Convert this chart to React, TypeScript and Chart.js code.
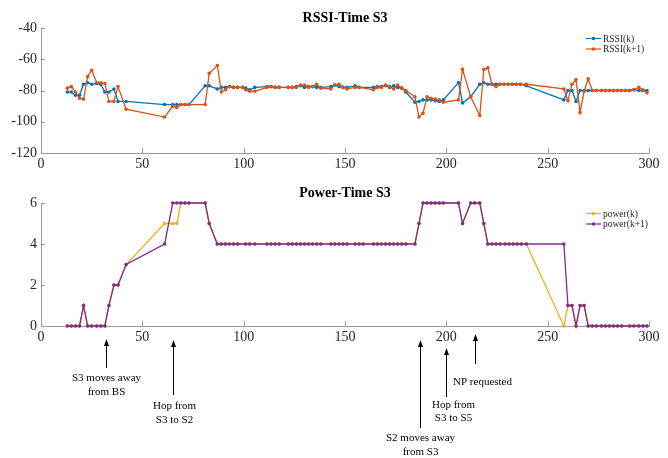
import React, { useEffect, useRef } from "react";
import { Chart, registerables } from "chart.js";

Chart.register(...registerables);

// ---------------- data ----------------
const rssiTimes = [
  13, 15, 17, 19, 21, 23, 25, 27.5, 29.5, 31.5, 33.5, 36, 38, 42,
  61, 65, 67, 69, 71, 73, 81, 83, 87, 89, 91, 93, 95, 97, 99.5, 101, 103, 105.5,
  111.5, 113.5, 115.5, 117.5, 122, 124, 126, 128, 130, 132, 134, 136, 138,
  143, 145, 147, 149, 151, 155, 157, 164, 166, 168, 170, 172, 174, 176, 178, 180,
  184.5, 186.5, 188.5, 190.5, 192.5, 194.5, 196.5, 198.5, 206, 208, 212,
  216.5, 218.5, 220.5, 222.5, 224.5, 226.5, 228.5, 230.5, 232.5, 234.5, 236.5, 239.5,
  258, 260, 262, 264, 266, 268, 270, 272, 274, 276.5, 278.5, 280.5, 282.5, 284.5,
  286.5, 288.5, 290.5, 292.5, 295, 297, 299,
];

const rssiK = [
  -81, -81, -83, -83, -76, -75, -76, -75.5, -76, -81, -81, -79, -87, -87,
  -89, -89, -89, -89, -89, -89, -77, -77, -79, -78, -78, -77.5, -78, -78, -78, -78.5, -79.5, -78,
  -77.5, -77.5, -78, -78, -78, -78, -77.5, -77, -78, -77.5, -77.5, -78, -78,
  -77.5, -76.5, -77.5, -78, -78, -77, -78, -78, -77.5, -77.5, -77, -78, -77, -78, -78.5, -81,
  -87.5, -87, -86, -86, -86, -86.5, -87, -86, -75, -88, -84,
  -76, -75, -76, -76, -76, -76, -76, -76, -76, -76, -76, -77,
  -86, -80, -80, -87, -80, -80, -80, -80, -80, -80, -80, -80, -80, -80,
  -80, -80, -80, -79.5, -80, -80, -80,
];

const rssiK1 = [
  -78.5, -77.5, -81, -85, -85.5, -71, -67, -75, -75, -75.5, -87, -87, -77.5, -92,
  -97, -90, -91, -89, -89, -89, -89, -69, -64, -81, -79.5, -77.5, -78, -78, -78, -79.5, -80.5, -80.5,
  -78, -77.5, -78, -78, -78, -78, -78, -76.5, -76.5, -78, -77.5, -76, -78.5,
  -79, -76.5, -76, -78, -79, -78, -78, -79.5, -78, -78, -76.5, -77.5, -79, -76.5, -78.5, -80,
  -84, -97, -94.5, -84, -85, -85.5, -86, -87.5, -86, -66.5, -84,
  -96, -66.5, -65.5, -76, -77.5, -76, -76, -76, -76, -76, -76, -76,
  -79, -86.5, -76, -73, -94, -80.5, -72.5, -80, -80, -80, -80, -80, -80, -80,
  -80, -80, -80, -79.5, -78, -79.5, -81.5,
];

const powerTimes = [
  13, 15, 17, 19, 21, 23, 25, 27.5, 29.5, 31.5, 33.5, 36, 38, 42,
  61, 65, 67, 69, 71, 73, 81, 83, 87, 89, 91, 93, 95, 97, 101, 103, 105.5,
  111.5, 113.5, 115.5, 117.5, 122, 124, 126, 128, 130, 132, 134, 136, 138,
  143, 145, 147, 149, 151, 155, 157, 159, 164, 166, 168, 170, 172, 174, 176, 178, 180,
  184.5, 186.5, 188.5, 190.5, 192.5, 194.5, 196.5, 198.5, 206, 208,
  212, 214, 216.5, 218.5, 220.5, 222.5, 224.5, 226.5, 229, 231, 233, 235, 237, 239.5,
  258, 260, 262, 264, 266, 268, 270, 272, 274, 276.5, 278.5, 280.5, 282.5, 284.5, 286.5,
  290.5, 292.5, 295, 297, 299,
];

const powerK = [
  0, 0, 0, 0, 1, 0, 0, 0, 0, 0, 1, 2, 2, 3,
  5, 5, 5, 6, 6, 6, 6, 5, 4, 4, 4, 4, 4, 4, 4, 4, 4,
  4, 4, 4, 4, 4, 4, 4, 4, 4, 4, 4, 4, 4,
  4, 4, 4, 4, 4, 4, 4, 4, 4, 4, 4, 4, 4, 4, 4, 4, 4,
  4, 5, 6, 6, 6, 6, 6, 6, 6, 5,
  6, 6, 6, 5, 4, 4, 4, 4, 4, 4, 4, 4, 4, 4,
  0, 1, 1, 0, 1, 1, 0, 0, 0, 0, 0, 0, 0, 0, 0,
  0, 0, 0, 0, 0,
];

const powerK1 = [
  0, 0, 0, 0, 1, 0, 0, 0, 0, 0, 1, 2, 2, 3,
  4, 6, 6, 6, 6, 6, 6, 5, 4, 4, 4, 4, 4, 4, 4, 4, 4,
  4, 4, 4, 4, 4, 4, 4, 4, 4, 4, 4, 4, 4,
  4, 4, 4, 4, 4, 4, 4, 4, 4, 4, 4, 4, 4, 4, 4, 4, 4,
  4, 5, 6, 6, 6, 6, 6, 6, 6, 5,
  6, 6, 6, 5, 4, 4, 4, 4, 4, 4, 4, 4, 4, 4,
  4, 1, 1, 0, 1, 1, 0, 0, 0, 0, 0, 0, 0, 0, 0,
  0, 0, 0, 0, 0,
];

const annotationTimes = [32, 65, 187, 200, 214];
const annotationTexts = [
  ["S3 moves away", "from BS"],
  ["Hop from", "S3 to S2"],
  ["S2 moves away", "from S3"],
  ["Hop from", "S3 to S5"],
  ["NP requested"],
];

// ---------------- styling / layout ----------------
const FONT = '"Liberation Serif", "Times New Roman", Times, serif';
const axisColor = "#9a9a9a";
const textColor = "#262626";

const annotationLayout = [
  { tip: 164, tail: 193, textY: [203, 217], dx: 0 },
  { tip: 165, tail: 220, textY: [231, 245], dx: 1 },
  { tip: 165, tail: 253, textY: [263, 277], dx: 0 },
  { tip: 173, tail: 222, textY: [230, 243.5], dx: 7 },
  { tip: 159, tail: 189, textY: [207], dx: 7 },
];

const insideTicks = {
  id: "insideTicks",
  afterDraw(chart: any) {
    const { ctx, chartArea, scales } = chart;
    const xs = scales.x;
    const ys = scales.y;
    ctx.save();
    ctx.strokeStyle = axisColor;
    ctx.lineWidth = 1;
    ctx.beginPath();
    xs.ticks.forEach((t: any) => {
      const px = Math.round(xs.getPixelForValue(t.value)) + 0.5;
      ctx.moveTo(px, chartArea.bottom);
      ctx.lineTo(px, chartArea.bottom - 5);
    });
    ys.ticks.forEach((t: any) => {
      const py = Math.round(ys.getPixelForValue(t.value)) + 0.5;
      ctx.moveTo(chartArea.left, py);
      ctx.lineTo(chartArea.left + 4, py);
    });
    ctx.stroke();
    ctx.restore();
  },
};

const figTitle = {
  id: "figTitle",
  afterDraw(chart: any, _a: any, opts: any) {
    const { ctx, chartArea } = chart;
    ctx.save();
    ctx.font = `bold 14px ${FONT}`;
    ctx.fillStyle = "#000";
    ctx.textAlign = "center";
    ctx.textBaseline = "middle";
    ctx.fillText(opts.text, (chartArea.left + chartArea.right) / 2, opts.y);
    ctx.restore();
  },
};

const figLegend = {
  id: "figLegend",
  afterDraw(chart: any, _a: any, opts: any) {
    const { ctx } = chart;
    ctx.save();
    ctx.font = `9.5px ${FONT}`;
    ctx.textBaseline = "middle";
    ctx.textAlign = "left";
    chart.data.datasets.forEach((ds: any, i: number) => {
      const y = opts.y + i * opts.gap;
      ctx.strokeStyle = ds.borderColor;
      ctx.lineWidth = 1.2;
      ctx.beginPath();
      ctx.moveTo(opts.x, y);
      ctx.lineTo(opts.x + opts.len, y);
      ctx.stroke();
      ctx.fillStyle = ds.borderColor;
      ctx.beginPath();
      ctx.arc(opts.x + opts.len / 2, y, 1.8, 0, Math.PI * 2);
      ctx.fill();
      ctx.fillStyle = textColor;
      ctx.fillText(ds.label, opts.x + opts.len + 2, y + 0.5);
    });
    ctx.restore();
  },
};

const figAnnotations = {
  id: "figAnnotations",
  afterDraw(chart: any, _a: any, opts: any) {
    if (!opts || !opts.enabled) return;
    const { ctx, scales } = chart;
    const xs = scales.x;
    ctx.save();
    ctx.strokeStyle = "#000";
    ctx.fillStyle = "#000";
    ctx.lineWidth = 1;
    ctx.font = `11px ${FONT}`;
    ctx.textAlign = "center";
    ctx.textBaseline = "middle";
    annotationTimes.forEach((t, i) => {
      const L = annotationLayout[i];
      const x = Math.round(xs.getPixelForValue(t)) + 0.5;
      ctx.beginPath();
      ctx.moveTo(x, L.tip + 5);
      ctx.lineTo(x, L.tail);
      ctx.stroke();
      ctx.beginPath();
      ctx.moveTo(x, L.tip);
      ctx.lineTo(x - 2.5, L.tip + 7);
      ctx.lineTo(x + 2.5, L.tip + 7);
      ctx.closePath();
      ctx.fill();
      annotationTexts[i].forEach((line, j) => {
        ctx.fillText(line, x + L.dx, L.textY[j]);
      });
    });
    ctx.restore();
  },
};

function makeDataset(label: string, times: number[], values: number[], color: string, order: number) {
  return {
    label,
    data: times.map((t, i) => ({ x: t, y: values[i] })),
    borderColor: color,
    backgroundColor: color,
    borderWidth: 1.3,
    pointRadius: 1.8,
    pointBorderWidth: 0,
    pointHoverRadius: 0,
    tension: 0,
    clip: false as any,
    order,
  };
}

function makeOptions(yMin: number, yMax: number, yStep: number, title: string, padBottom: number, annotate: boolean) {
  const tickFont = { family: FONT, size: 14 };
  return {
    responsive: false,
    animation: false as const,
    events: [] as any[],
    layout: { padding: { top: 28, right: 19, bottom: padBottom, left: 0 } },
    scales: {
      x: {
        type: "linear" as const,
        min: 0,
        max: 300,
        ticks: { stepSize: 50, padding: 3, font: tickFont, color: textColor, maxRotation: 0 },
        grid: { display: false, drawTicks: false },
        border: { display: true, color: axisColor, width: 1 },
        afterFit: (s: any) => { s.height = 22; },
      },
      y: {
        type: "linear" as const,
        min: yMin,
        max: yMax,
        ticks: { stepSize: yStep, padding: 4, font: tickFont, color: textColor },
        grid: { display: false, drawTicks: false },
        border: { display: true, color: axisColor, width: 1 },
        afterFit: (s: any) => { s.width = 41; },
      },
    },
    plugins: {
      legend: { display: false },
      tooltip: { enabled: false },
      title: { display: false },
      figTitle: { text: title, y: 18 },
      figLegend: { x: 586, y: 38.5, gap: 10.5, len: 15 },
      figAnnotations: { enabled: annotate },
    } as any,
  };
}

export default function App() {
  const topRef = useRef<HTMLCanvasElement>(null);
  const botRef = useRef<HTMLCanvasElement>(null);

  useEffect(() => {
    const plugins = [insideTicks, figTitle, figLegend, figAnnotations];
    const c1 = new Chart(topRef.current as HTMLCanvasElement, {
      type: "line",
      data: {
        datasets: [
          makeDataset("RSSI(k)", rssiTimes, rssiK, "#0072BD", 1),
          makeDataset("RSSI(k+1)", rssiTimes, rssiK1, "#D95319", 0),
        ],
      },
      options: makeOptions(-120, -40, 20, "RSSI-Time S3", 0, false) as any,
      plugins,
    });
    const c2 = new Chart(botRef.current as HTMLCanvasElement, {
      type: "line",
      data: {
        datasets: [
          makeDataset("power(k)", powerTimes, powerK, "#EDB120", 1),
          makeDataset("power(k+1)", powerTimes, powerK1, "#7E2F8E", 0),
        ],
      },
      options: makeOptions(0, 6, 2, "Power-Time S3", 110, true) as any,
      plugins,
    });
    return () => {
      c1.destroy();
      c2.destroy();
    };
  }, []);

  return (
    <div style={{ position: "absolute", left: 0, top: 0, width: 668, height: 458, background: "#fff", overflow: "hidden" }}>
      <canvas ref={topRef} width={668} height={175} style={{ position: "absolute", left: 0, top: 0 }} />
      <canvas ref={botRef} width={668} height={283} style={{ position: "absolute", left: 0, top: 175 }} />
    </div>
  );
}
